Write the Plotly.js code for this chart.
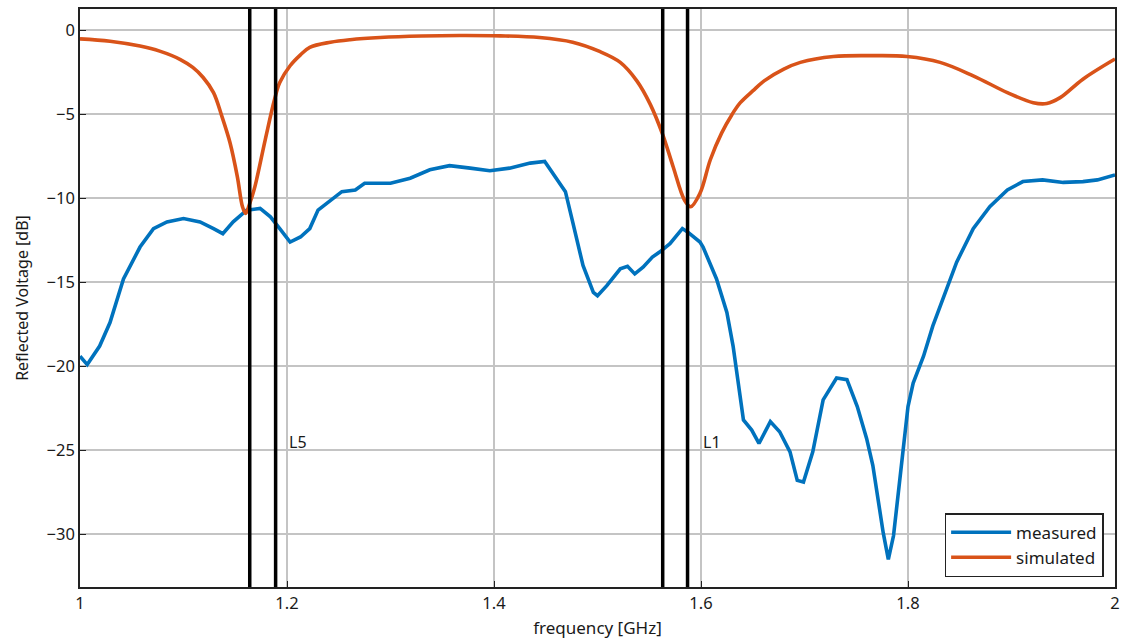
<!DOCTYPE html>
<html>
<head>
<meta charset="utf-8">
<script src="https://cdn.plot.ly/plotly-3.0.1.min.js"></script>
<style>html,body{margin:0;padding:0;background:#fff}#chart{width:1121px;height:643px}</style>
</head>
<body>
<div id="chart"></div>
<script>
// measured response
const measFreq = [1.000,1.007,1.019,1.029,1.042,1.058,1.071,1.084,1.100,1.116,1.129,1.138,1.148,1.161,1.174,1.184,1.193,1.203,1.213,1.222,1.230,1.242,1.253,1.266,1.275,1.300,1.319,1.338,1.357,1.377,1.396,1.415,1.435,1.449,1.457,1.469,1.476,1.486,1.496,1.500,1.509,1.522,1.529,1.536,1.544,1.553,1.560,1.570,1.582,1.587,1.599,1.602,1.615,1.625,1.631,1.636,1.641,1.649,1.656,1.667,1.676,1.686,1.693,1.699,1.708,1.718,1.731,1.741,1.751,1.760,1.766,1.776,1.781,1.786,1.792,1.800,1.805,1.815,1.824,1.836,1.847,1.863,1.879,1.896,1.911,1.930,1.950,1.969,1.983,2.000];
const measDb = [-19.4,-19.9,-18.8,-17.4,-14.8,-12.9,-11.8,-11.4,-11.2,-11.4,-11.8,-12.1,-11.4,-10.7,-10.6,-11.1,-11.8,-12.6,-12.3,-11.8,-10.7,-10.1,-9.6,-9.5,-9.1,-9.1,-8.8,-8.3,-8.05,-8.2,-8.35,-8.2,-7.9,-7.8,-8.5,-9.6,-11.4,-14.0,-15.6,-15.8,-15.2,-14.2,-14.05,-14.5,-14.1,-13.5,-13.2,-12.7,-11.8,-12.0,-12.6,-12.9,-14.8,-16.8,-18.8,-21.2,-23.2,-23.8,-24.6,-23.3,-23.9,-25.1,-26.8,-26.9,-25.1,-22.0,-20.7,-20.8,-22.4,-24.3,-25.9,-29.9,-31.5,-30.1,-26.7,-22.4,-21.0,-19.4,-17.6,-15.6,-13.8,-11.8,-10.5,-9.5,-9.0,-8.9,-9.05,-9.0,-8.9,-8.6];
// simulated response
const simFreq = [1.000,1.029,1.058,1.077,1.097,1.109,1.119,1.129,1.137,1.145,1.152,1.157,1.160,1.164,1.169,1.179,1.188,1.193,1.203,1.213,1.222,1.242,1.261,1.290,1.330,1.367,1.406,1.444,1.476,1.502,1.522,1.538,1.551,1.563,1.573,1.584,1.590,1.599,1.609,1.620,1.630,1.638,1.650,1.661,1.680,1.696,1.728,1.767,1.799,1.831,1.863,1.896,1.921,1.934,1.947,1.969,2.000];
const simDb = [-0.5,-0.64,-0.93,-1.23,-1.73,-2.2,-2.8,-3.7,-5.1,-6.7,-8.7,-10.5,-10.9,-10.3,-9.3,-6.5,-4.1,-3.1,-2.1,-1.45,-1.0,-0.7,-0.55,-0.42,-0.33,-0.3,-0.32,-0.42,-0.7,-1.25,-1.9,-3.0,-4.4,-6.2,-8.1,-10.1,-10.5,-9.7,-7.7,-6.1,-5.0,-4.3,-3.6,-3.0,-2.3,-1.9,-1.55,-1.5,-1.55,-1.9,-2.7,-3.7,-4.3,-4.35,-4.0,-2.9,-1.7];
// GNSS band edges (GHz) and labels
const bandEdges = [1.164, 1.189, 1.563, 1.587];
const bandLabels = ["L5", "L1"];
const bandLabelX = [1.2, 1.6];
const bandLabelY = [-24.5, -24.5];
const xTicks = [1, 1.2, 1.4, 1.6, 1.8, 2];
const xTickText = ["1", "1.2", "1.4", "1.6", "1.8", "2"];
const yTicks = [0, -5, -10, -15, -20, -25, -30];

const FONT = "Noto Sans, Open Sans, sans-serif";
const TXT = "#1a1a1a";

const traces = [
  {x: measFreq, y: measDb, type: "scatter", mode: "lines", name: "measured",
   line: {color: "#0072BD", width: 3.6}},
  {x: simFreq, y: simDb, type: "scatter", mode: "lines", name: "simulated",
   line: {color: "#D95319", width: 3.6, shape: "spline", smoothing: 1}}
];

const shapes = bandEdges.map(f => ({
  type: "line", xref: "x", yref: "paper", x0: f, x1: f, y0: 0, y1: 1,
  line: {color: "#000", width: 3.5}, layer: "above"
}));

const annotations = bandLabels.map((t, i) => ({
  x: bandLabelX[i], y: bandLabelY[i], xref: "x", yref: "y", text: t,
  showarrow: false, xanchor: "left", yanchor: "middle",
  font: {family: FONT, size: 16, color: TXT}
}));

const layout = {
  width: 1121, height: 643,
  margin: {l: 80, r: 6, t: 9, b: 56},
  paper_bgcolor: "#fff", plot_bgcolor: "#fff",
  font: {family: FONT, size: 16, color: TXT},
  showlegend: true,
  legend: {x: 0.989, y: 0.017, xanchor: "right", yanchor: "bottom",
    bgcolor: "#fff", bordercolor: "#222", borderwidth: 1.5,
    itemwidth: 60, tracegroupgap: 4,
    font: {family: FONT, size: 17, color: TXT}},
  xaxis: {range: [1, 2], tickvals: xTicks, ticktext: xTickText,
    showgrid: true, gridcolor: "#c4c4c4", gridwidth: 1.5,
    showline: true, linecolor: "#222", linewidth: 1.5, mirror: true,
    ticks: "inside", ticklen: 6, tickcolor: "#222", zeroline: false,
    tickfont: {family: FONT, size: 16.5, color: TXT},
    title: {text: "frequency [GHz]", standoff: 10, font: {family: FONT, size: 17, color: TXT}}},
  yaxis: {range: [-33.15, 1.28], tickvals: yTicks,
    showgrid: true, gridcolor: "#c4c4c4", gridwidth: 1.5,
    showline: true, linecolor: "#222", linewidth: 1.5, mirror: true,
    ticks: "inside", ticklen: 6, tickcolor: "#222", zeroline: false,
    tickfont: {family: FONT, size: 16.5, color: TXT},
    title: {text: "Reflected Voltage [dB]", standoff: 14, font: {family: FONT, size: 16, color: TXT}}},
  shapes: shapes,
  annotations: annotations
};

Plotly.newPlot("chart", traces, layout, {displayModeBar: false, responsive: false});
</script>
</body>
</html>
